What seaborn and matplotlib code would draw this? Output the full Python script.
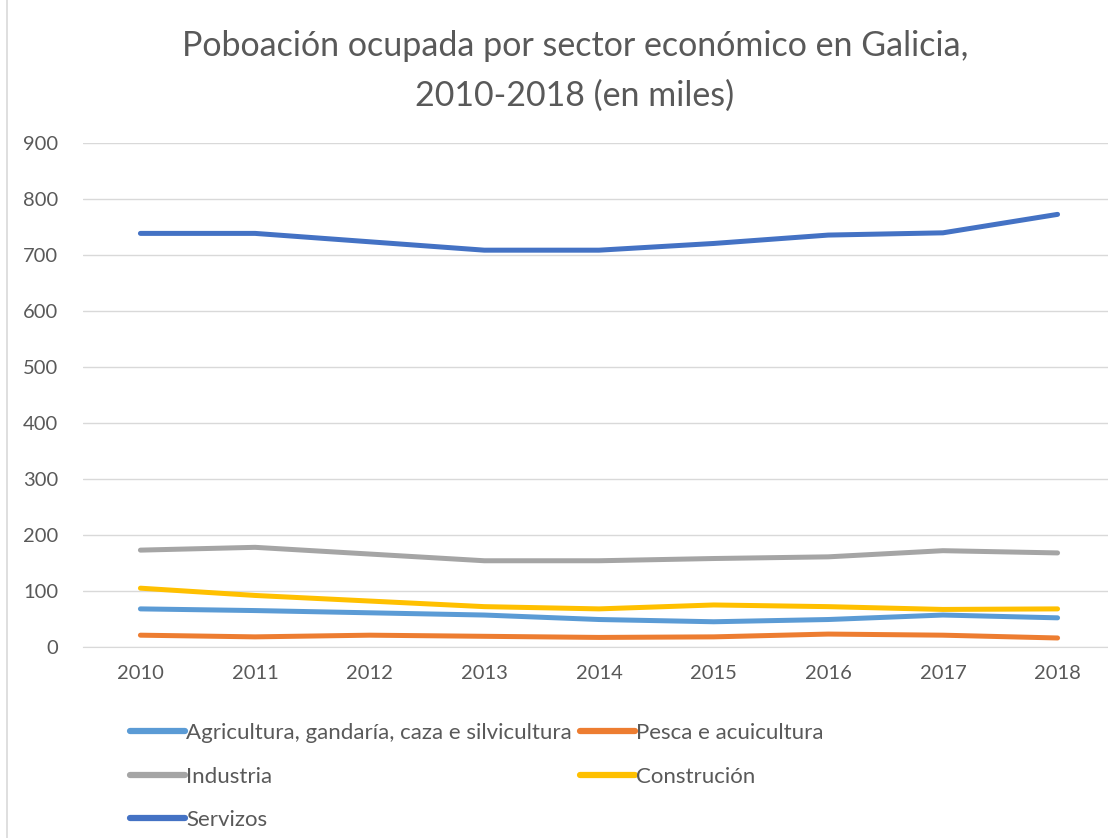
import numpy as np
import pandas as pd
import matplotlib.pyplot as plt
import seaborn as sns
from matplotlib.lines import Line2D

# Data (thousands of people)
years = [2010, 2011, 2012, 2013, 2014, 2015, 2016, 2017, 2018]
agricultura = [68, 65, 61, 57, 49, 45, 49, 57, 52]
pesca = [21, 18, 21, 19, 17, 18, 23, 21, 16]
industria = [173, 178, 166, 154, 154, 158, 161, 172, 168]
construcion = [105, 92, 82, 72, 68, 75, 72, 67, 68]
servizos = [739, 739, 724, 709, 709, 721, 736, 740, 773]

sectors = ['Agricultura, gandaría, caza e silvicultura', 'Pesca e acuicultura',
           'Industria', 'Construción', 'Servizos']
colors = ['#5B9BD5', '#ED7D31', '#A5A5A5', '#FFC000', '#4472C4']


def build_frame():
    """Long-form table for seaborn."""
    series = [agricultura, pesca, industria, construcion, servizos]
    rows = []
    for name, vals in zip(sectors, series):
        for y, v in zip(years, vals):
            rows.append({'ano': y, 'valor': v, 'sector': name})
    return pd.DataFrame(rows)


def main():
    sns.set_style('white')
    plt.rcParams['font.family'] = ['Lato', 'DejaVu Sans']
    text_gray = '#595959'

    data = build_frame()

    fig = plt.figure(figsize=(11.08, 8.38), dpi=100)
    ax = fig.add_axes([0.075, 0.228, 0.925, 0.601])

    sns.lineplot(data=data, x='ano', y='valor', hue='sector',
                 palette=dict(zip(sectors, colors)), hue_order=sectors,
                 linewidth=3.6, ax=ax, legend=False,
                 solid_capstyle='round')

    ax.set_ylim(0, 900)
    ax.set_yticks(range(0, 901, 100))
    ax.set_xlim(2009.5, 2018.44)
    ax.set_xticks(years)
    ax.set_xlabel('')
    ax.set_ylabel('')
    ax.grid(axis='y', color='#d9d9d9', linewidth=1)
    ax.set_axisbelow(True)
    for side in ['top', 'right', 'left']:
        ax.spines[side].set_visible(False)
    ax.spines['bottom'].set_color('#d9d9d9')
    ax.tick_params(axis='both', length=0, labelsize=14.5, colors=text_gray)
    ax.tick_params(axis='y', pad=18)
    ax.tick_params(axis='x', pad=13)

    fig.text(0.519, 0.945, 'Poboación ocupada por sector económico en Galicia,',
             ha='center', va='center', fontsize=24.5, color=text_gray)
    fig.text(0.519, 0.886, '2010-2018 (en miles)',
             ha='center', va='center', fontsize=24.5, color=text_gray)

    # Excel-style row-wise legend: reorder for matplotlib's column filling
    order = [0, 2, 4, 1, 3]
    handles = [Line2D([0], [0], color=colors[i], linewidth=4.5) for i in order]
    labels = [sectors[i] for i in order]
    fig.legend(handles, labels, loc='upper left', ncol=2,
               bbox_to_anchor=(0.117, 0.137), frameon=False,
               fontsize=16, labelcolor=text_gray, handlelength=2.5,
               handletextpad=0.05, columnspacing=0.35, labelspacing=1.05,
               borderaxespad=0, borderpad=0)

    # left edge border of the chart area
    fig.add_artist(Line2D([0.0065, 0.0065], [0, 1], color='#d9d9d9',
                          linewidth=1.2, transform=fig.transFigure))

    fig.savefig('out.png', dpi=100)


if __name__ == '__main__':
    main()
